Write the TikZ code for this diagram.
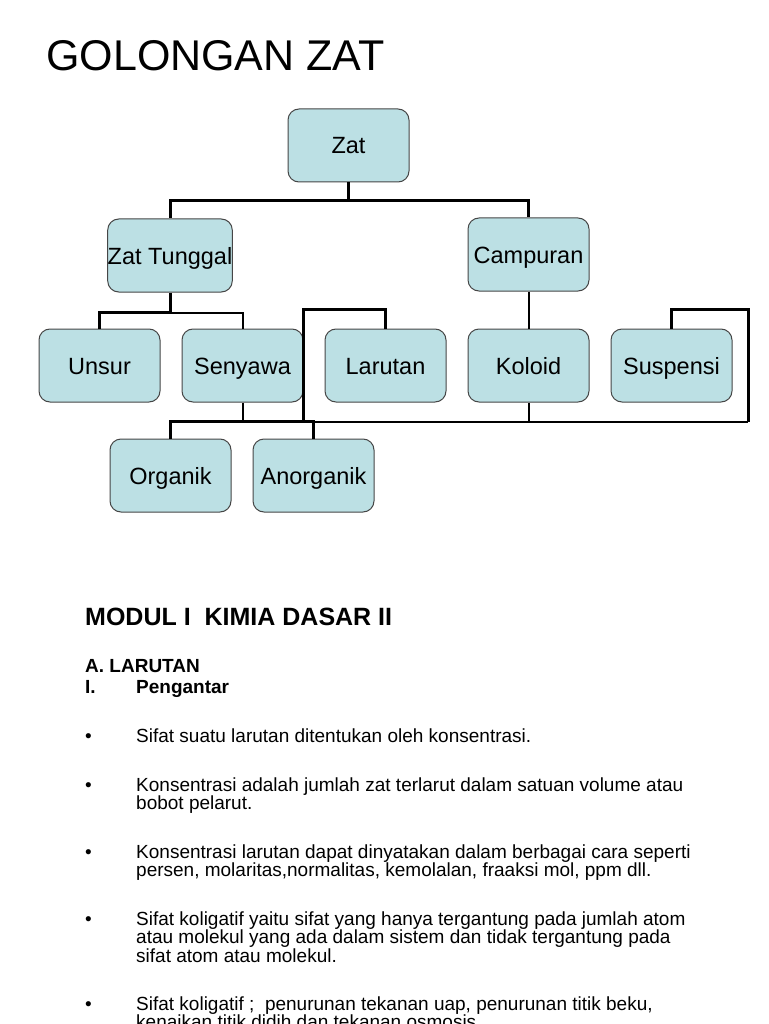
\documentclass[tikz,border=0pt]{standalone}
\usepackage{fontspec}
\setmainfont{Liberation Sans}
\usepackage{tikz}
\usetikzlibrary{positioning}
\definecolor{boxcyan}{RGB}{188, 224, 228}
\definecolor{boxgray}{RGB}{70, 70, 70}

\begin{document}
\begin{tikzpicture}[x=1pt, y=-1pt,
    zatbox/.style={draw=boxgray, fill=boxcyan, rounded corners=11pt, line width=1pt,
      minimum width=121pt, minimum height=73pt, inner sep=0pt, text height=21pt, text depth=4pt,
      font=\fontsize{23.5}{27}\selectfont},
    link/.style={line width=3pt},
    thinlink/.style={line width=2pt},
    body/.style={anchor=base west, inner sep=0pt, font=\fontsize{19}{18}\selectfont}]
  \useasboundingbox (0,0) rectangle (768,1024);
  \clip (0,0) rectangle (768,1024);

  \node[anchor=base west, inner sep=0pt, font=\fontsize{43}{43}\selectfont] (title) at (46,71) {GOLONGAN ZAT};

  % tree
  \node[zatbox] (zat) at (348.5,145.5) {Zat};
  \node[zatbox] (tunggal) at (170,255.5) {Zat Tunggal};
  \node[zatbox] (unsur) at (99.5,365.5) {Unsur};
  \node[zatbox, right=21pt of unsur] (senyawa) {Senyawa};
  \node[zatbox, right=21pt of senyawa] (larutan) {Larutan};
  \node[zatbox, right=21pt of larutan] (koloid) {Koloid};
  \node[zatbox, right=21pt of koloid] (suspensi) {Suspensi};
  \node[zatbox, above=37pt of koloid] (campuran) {Campuran};
  \node[zatbox] (organik) at (170.5,475.5) {Organik};
  \node[zatbox, right=21pt of organik] (anorganik) {Anorganik};

  \draw[link] (zat.south) -- ++(0,18) coordinate (zjoin) -| (tunggal.north);
  \draw[link] (zjoin) -| (campuran.north);
  \draw[link] (tunggal.south) -- ++(0,20) coordinate (tjoin) -| (unsur.north);
  \draw[thinlink] (tjoin) -| (senyawa.north);
  \draw[thinlink] (senyawa.south) -- ++(0,19) coordinate (sjoin);
  \draw[link] (organik.north) |- (sjoin) -| (anorganik.north);

  \coordinate (busL) at (303,422);
  \coordinate (busR) at (748,422);
  \draw[thinlink] (campuran.south) -- (koloid.north);
  \draw[link] (larutan.north) -- ++(0,-19) -| (busL);
  \draw[link] (suspensi.north) -- ++(0,-19) -| (busR);
  \draw[thinlink] (busL) -- (busR);
  \draw[thinlink] (koloid.south) -- (koloid.south |- busL);

  % text
  \node[body, font=\bfseries\fontsize{25}{25}\selectfont] (modul) at (85,625) {MODUL I\ \ KIMIA DASAR II};
  \node[body, font=\bfseries\fontsize{19}{18}\selectfont] (larutanA) at (85,672) {A. LARUTAN};
  \node[body, font=\bfseries\fontsize{19}{18}\selectfont] (nomor) at (85,693) {I.};
  \node[body, font=\bfseries\fontsize{19}{18}\selectfont] (pengantar) at (136,693) {Pengantar};

  \foreach \y in {742,791,858,925,1010}
    \node[body] (dot\y) at (85,\y) {\textbullet};

  \foreach \y/\t in {
      742/{Sifat suatu larutan ditentukan oleh konsentrasi.},
      791/{Konsentrasi adalah jumlah zat terlarut dalam satuan volume atau},
      809/{bobot pelarut.},
      858/{Konsentrasi larutan dapat dinyatakan dalam berbagai cara seperti},
      876/{persen, molaritas,normalitas, kemolalan, fraaksi mol, ppm dll.},
      925/{Sifat koligatif yaitu sifat yang hanya tergantung pada jumlah atom},
      943/{atau molekul yang ada dalam sistem dan tidak tergantung pada},
      962/{sifat atom atau molekul.},
      1010/{Sifat koligatif ;\ \ penurunan tekanan uap, penurunan titik beku,},
      1028/{kenaikan titik didih dan tekanan osmosis.}}
    \node[body] (line\y) at (136,\y) {\t};
\end{tikzpicture}
\end{document}
